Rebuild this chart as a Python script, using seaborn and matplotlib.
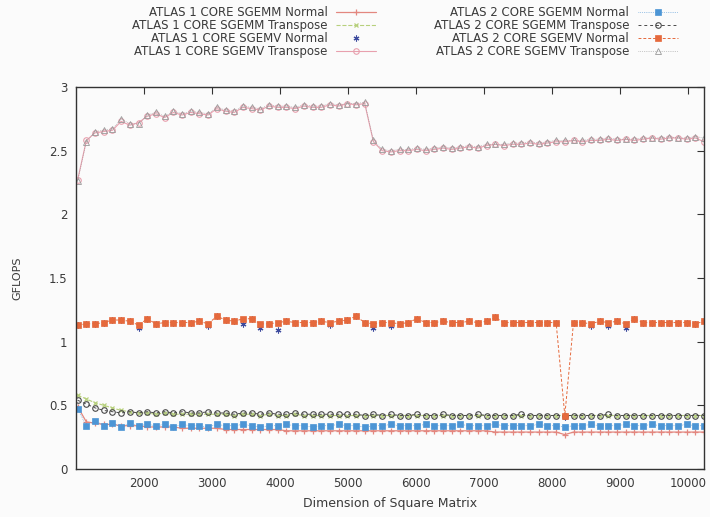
import matplotlib
matplotlib.use("Agg")
import matplotlib.pyplot as plt
import seaborn as sns

# Matrix dimensions (N x N) of the benchmark runs
sizes = [1024, 1152, 1280, 1408, 1536, 1664, 1792, 1920,
         2048, 2176, 2304, 2432, 2560, 2688, 2816, 2944,
         3072, 3200, 3328, 3456, 3584, 3712, 3840, 3968,
         4096, 4224, 4352, 4480, 4608, 4736, 4864, 4992,
         5120, 5248, 5376, 5504, 5632, 5760, 5888, 6016,
         6144, 6272, 6400, 6528, 6656, 6784, 6912, 7040,
         7168, 7296, 7424, 7552, 7680, 7808, 7936, 8064,
         8192, 8320, 8448, 8576, 8704, 8832, 8960, 9088,
         9216, 9344, 9472, 9600, 9728, 9856, 9984, 10112,
         10240]

# GFLOPS per configuration
sgemm_normal_1core = [0.49, 0.37, 0.36, 0.35, 0.35, 0.34, 0.34, 0.34,
                      0.33, 0.33, 0.33, 0.33, 0.32, 0.32, 0.32, 0.32,
                      0.32, 0.31, 0.31, 0.31, 0.31, 0.31, 0.31, 0.31,
                      0.30, 0.30, 0.30, 0.30, 0.30, 0.30, 0.30, 0.30,
                      0.30, 0.30, 0.30, 0.30, 0.30, 0.30, 0.30, 0.30,
                      0.30, 0.30, 0.30, 0.30, 0.30, 0.30, 0.30, 0.30,
                      0.29, 0.29, 0.29, 0.29, 0.29, 0.29, 0.29, 0.29,
                      0.27, 0.29, 0.29, 0.29, 0.29, 0.29, 0.29, 0.29,
                      0.29, 0.29, 0.29, 0.29, 0.29, 0.29, 0.29, 0.29,
                      0.29]
sgemm_transpose_1core = [0.58, 0.55, 0.52, 0.50, 0.48, 0.46, 0.45, 0.44,
                         0.44, 0.43, 0.44, 0.43, 0.43, 0.43, 0.43, 0.43,
                         0.43, 0.43, 0.42, 0.43, 0.43, 0.42, 0.43, 0.42,
                         0.42, 0.43, 0.42, 0.42, 0.42, 0.42, 0.42, 0.42,
                         0.42, 0.42, 0.42, 0.42, 0.42, 0.42, 0.42, 0.42,
                         0.42, 0.42, 0.42, 0.42, 0.42, 0.42, 0.42, 0.42,
                         0.42, 0.42, 0.42, 0.42, 0.42, 0.42, 0.42, 0.42,
                         0.42, 0.42, 0.42, 0.42, 0.42, 0.42, 0.42, 0.42,
                         0.42, 0.42, 0.42, 0.42, 0.42, 0.42, 0.42, 0.42,
                         0.42]
sgemv_normal_1core = [1.13, 1.14, 1.14, 1.15, 1.17, 1.17, 1.16, 1.11,
                      1.18, 1.14, 1.15, 1.15, 1.15, 1.15, 1.16, 1.12,
                      1.20, 1.17, 1.16, 1.14, 1.18, 1.11, 1.14, 1.09,
                      1.16, 1.15, 1.15, 1.15, 1.16, 1.13, 1.16, 1.17,
                      1.20, 1.15, 1.11, 1.15, 1.12, 1.14, 1.15, 1.18,
                      1.15, 1.15, 1.16, 1.15, 1.15, 1.16, 1.15, 1.16,
                      1.19, 1.15, 1.15, 1.15, 1.15, 1.15, 1.15, 1.15,
                      0.41, 1.15, 1.15, 1.12, 1.16, 1.12, 1.16, 1.11,
                      1.18, 1.15, 1.15, 1.15, 1.15, 1.15, 1.15, 1.14,
                      1.16]
sgemv_transpose_1core = [2.27, 2.58, 2.64, 2.65, 2.66, 2.73, 2.70, 2.72,
                         2.77, 2.79, 2.76, 2.80, 2.78, 2.80, 2.79, 2.78,
                         2.83, 2.81, 2.80, 2.84, 2.83, 2.82, 2.85, 2.84,
                         2.84, 2.83, 2.85, 2.84, 2.84, 2.86, 2.85, 2.87,
                         2.86, 2.87, 2.57, 2.50, 2.49, 2.50, 2.50, 2.51,
                         2.50, 2.51, 2.52, 2.51, 2.52, 2.53, 2.52, 2.54,
                         2.55, 2.54, 2.55, 2.55, 2.56, 2.55, 2.56, 2.57,
                         2.57, 2.58, 2.57, 2.58, 2.58, 2.59, 2.58, 2.59,
                         2.58, 2.59, 2.60, 2.59, 2.60, 2.60, 2.59, 2.60,
                         2.57]
sgemm_normal_2core = [0.47, 0.34, 0.38, 0.34, 0.36, 0.33, 0.36, 0.34,
                      0.35, 0.34, 0.35, 0.33, 0.35, 0.34, 0.34, 0.33,
                      0.35, 0.34, 0.34, 0.35, 0.34, 0.33, 0.34, 0.34,
                      0.35, 0.34, 0.34, 0.33, 0.34, 0.34, 0.35, 0.34,
                      0.34, 0.33, 0.34, 0.34, 0.35, 0.34, 0.34, 0.34,
                      0.35, 0.34, 0.34, 0.34, 0.35, 0.34, 0.34, 0.34,
                      0.35, 0.34, 0.34, 0.34, 0.34, 0.35, 0.34, 0.34,
                      0.33, 0.34, 0.34, 0.35, 0.34, 0.34, 0.34, 0.35,
                      0.34, 0.34, 0.35, 0.34, 0.34, 0.34, 0.35, 0.34,
                      0.34]
sgemm_transpose_2core = [0.54, 0.51, 0.48, 0.46, 0.45, 0.44, 0.45, 0.44,
                         0.45, 0.44, 0.45, 0.44, 0.45, 0.44, 0.44, 0.45,
                         0.44, 0.44, 0.43, 0.44, 0.44, 0.43, 0.44, 0.43,
                         0.43, 0.44, 0.43, 0.43, 0.43, 0.43, 0.43, 0.43,
                         0.43, 0.42, 0.43, 0.42, 0.43, 0.42, 0.42, 0.43,
                         0.42, 0.42, 0.43, 0.42, 0.42, 0.42, 0.43, 0.42,
                         0.42, 0.42, 0.42, 0.43, 0.42, 0.42, 0.42, 0.42,
                         0.42, 0.42, 0.42, 0.42, 0.42, 0.43, 0.42, 0.42,
                         0.42, 0.42, 0.42, 0.42, 0.42, 0.42, 0.42, 0.42,
                         0.42]
sgemv_normal_2core = [1.13, 1.14, 1.14, 1.15, 1.17, 1.17, 1.16, 1.13,
                      1.18, 1.14, 1.15, 1.15, 1.15, 1.15, 1.16, 1.14,
                      1.20, 1.17, 1.16, 1.18, 1.18, 1.14, 1.14, 1.15,
                      1.16, 1.15, 1.15, 1.15, 1.16, 1.15, 1.16, 1.17,
                      1.20, 1.15, 1.14, 1.15, 1.15, 1.14, 1.15, 1.18,
                      1.15, 1.15, 1.16, 1.15, 1.15, 1.16, 1.15, 1.16,
                      1.19, 1.15, 1.15, 1.15, 1.15, 1.15, 1.15, 1.15,
                      0.42, 1.15, 1.15, 1.14, 1.16, 1.15, 1.16, 1.14,
                      1.18, 1.15, 1.15, 1.15, 1.15, 1.15, 1.15, 1.14,
                      1.16]
sgemv_transpose_2core = [2.26, 2.57, 2.65, 2.66, 2.67, 2.75, 2.71, 2.71,
                         2.78, 2.80, 2.77, 2.81, 2.79, 2.81, 2.80, 2.79,
                         2.84, 2.82, 2.81, 2.85, 2.84, 2.83, 2.86, 2.85,
                         2.85, 2.84, 2.86, 2.85, 2.85, 2.87, 2.86, 2.87,
                         2.87, 2.88, 2.58, 2.51, 2.50, 2.51, 2.51, 2.52,
                         2.51, 2.52, 2.53, 2.52, 2.53, 2.54, 2.53, 2.55,
                         2.55, 2.55, 2.56, 2.56, 2.57, 2.56, 2.57, 2.58,
                         2.58, 2.58, 2.58, 2.59, 2.59, 2.60, 2.59, 2.59,
                         2.59, 2.60, 2.60, 2.60, 2.61, 2.60, 2.60, 2.61,
                         2.60]

labels = ["ATLAS 1 CORE SGEMM Normal", "ATLAS 1 CORE SGEMM Transpose",
          "ATLAS 1 CORE SGEMV Normal", "ATLAS 1 CORE SGEMV Transpose",
          "ATLAS 2 CORE SGEMM Normal", "ATLAS 2 CORE SGEMM Transpose",
          "ATLAS 2 CORE SGEMV Normal", "ATLAS 2 CORE SGEMV Transpose"]
series = [sgemm_normal_1core, sgemm_transpose_1core,
          sgemv_normal_1core, sgemv_transpose_1core,
          sgemm_normal_2core, sgemm_transpose_2core,
          sgemv_normal_2core, sgemv_transpose_2core]

# gnuplot-like point/line styles for each configuration
styles = [
    dict(color="#e3877f", lw=0.9, ls="-", marker="+", ms=5, mew=0.9),
    dict(color="#b7d07c", lw=0.8, ls="--", marker="x", ms=3.5, mew=0.9),
    dict(color="#3d4b9e", lw=0, ls="none", marker=(6, 2, 0), ms=4.2, mew=0.8),
    dict(color="#e8a0ae", lw=0.8, ls="-", marker="o", ms=4, mew=0.8, mfc="none"),
    dict(color="#4c95d5", lw=0.5, ls=":", marker="s", ms=3.8, mew=0.5),
    dict(color="#4a4a4a", lw=0.7, ls=(0, (3, 3)), marker="o", ms=4, mew=0.8, mfc="none"),
    dict(color="#e5693c", lw=0.7, ls=(0, (3, 2)), marker="s", ms=3.8, mew=0.5),
    dict(color="#9a9a9a", lw=0.5, ls=":", marker="^", ms=4, mew=0.6, mfc="none"),
]

sns.set_theme(style="white")
plt.rcParams["font.family"] = ["DejaVu Sans"]
text_color = "#3a3a3a"

fig = plt.figure(figsize=(7.10, 5.17), dpi=100, facecolor="#fbfbfb")
ax = fig.add_axes([76 / 710, 1 - 469 / 517, 628 / 710, 382 / 517])
ax.set_facecolor("#fbfbfb")

for vals, lab, st in zip(series, labels, styles):
    sns.lineplot(x=sizes, y=vals, ax=ax, label=lab, sort=False,
                 mec=st["color"], **st)

ax.get_legend().remove()

ax.set_xlim(1000, 10240)
ax.set_ylim(0, 3)
ax.set_xticks([2000, 3000, 4000, 5000, 6000, 7000, 8000, 9000, 10000])
ax.set_yticks([0, 0.5, 1, 1.5, 2, 2.5, 3])
ax.set_yticklabels(["0", "0.5", "1", "1.5", "2", "2.5", "3"])
ax.tick_params(direction="in", top=True, right=True, length=5, width=0.8,
               labelsize=8.5, colors="#333333", labelcolor=text_color, pad=6)
for sp in ax.spines.values():
    sp.set_color("#333333")
    sp.set_linewidth(1.0)

ax.set_xlabel("Dimension of Square Matrix", fontsize=9, color=text_color)
ax.set_ylabel("GFLOPS", fontsize=8, color=text_color)
ax.xaxis.set_label_coords(0.5, -0.072)
ax.yaxis.set_label_coords(-0.086, 0.5)

handles = ax.get_lines()
fig.legend(handles, labels, ncol=2, markerfirst=False, frameon=False,
           loc="upper left", bbox_to_anchor=(132 / 710, 1 - 6 / 517),
           fontsize=8.5, labelcolor=text_color, handlelength=3.4,
           handletextpad=0.7, columnspacing=4.9, labelspacing=0.0,
           borderpad=0.0, borderaxespad=0.0)

fig.savefig("out.png", dpi=100, facecolor=fig.get_facecolor())
